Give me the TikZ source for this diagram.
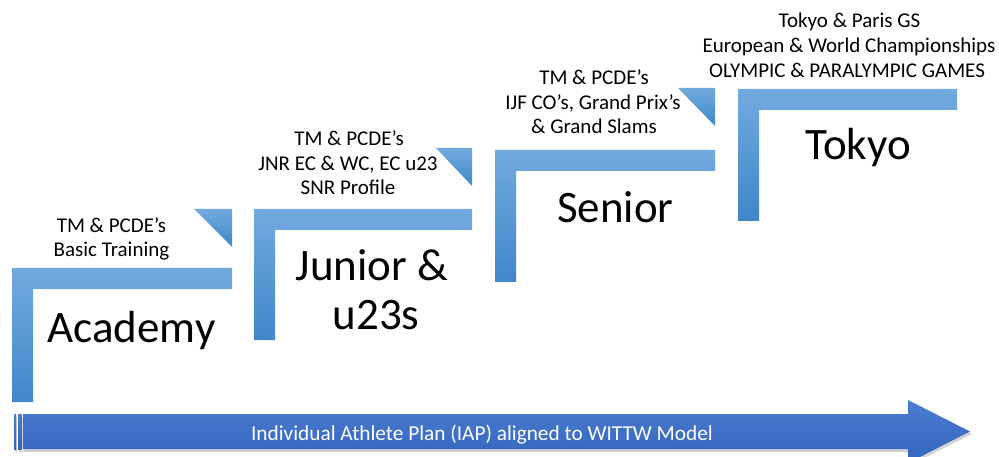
\documentclass[tikz,border=0pt]{standalone}
\usepackage{fontspec}
\setmainfont{Carlito}
\definecolor{stepTop}{HTML}{72AADE}
\definecolor{stepBot}{HTML}{3F87CA}
\definecolor{arrTop}{HTML}{4B7DD0}
\definecolor{arrBot}{HTML}{3464BE}
\newcommand\jstep[4]{% x0, top, right, bottom
  \path[top color=stepTop, bottom color=stepBot]
    (#1,#2) -- (#3,#2) -- (#3,#2+21) -- (#1+21,#2+21) -- (#1+21,#4) -- (#1,#4) -- cycle;}
\newcommand\jtri[3]{% left, top, right
  \path[top color=stepTop, bottom color=stepBot]
    (#1,#2) -- (#3,#2) -- (#3,#2+38) -- cycle;}
\begin{document}
\begin{tikzpicture}[x=1pt,y=-1pt,
  small/.style={font=\fontsize{21}{25}\selectfont, anchor=base, inner sep=0pt},
  big/.style={font=\fontsize{45}{49}\selectfont, anchor=base, inner sep=0pt},
  bartext/.style={font=\fontsize{21.3}{25}\selectfont, anchor=base, inner sep=0pt, text=white}]
\useasboundingbox (0,0) rectangle (999,457);
\clip (0,0) rectangle (999,457);
% steps
\jstep{12}{268}{232}{402}
\jstep{254}{209}{472}{340}
\jstep{495}{150}{715}{282}
\jstep{738}{89}{957}{221}
\jtri{194}{209}{232}
\jtri{436}{148}{472}
\jtri{678}{88}{715}
% arrow shadow
\fill[black!35, opacity=0.5]
  (15,417) rectangle (17,452)
  (19,417) rectangle (23,452)
  (24,417) -- (910,417) -- (910,403) -- (972,434) -- (910,465) -- (910,452) -- (24,452) -- cycle;
% arrow
\path[top color=arrTop, bottom color=arrBot] (14,414) rectangle (16,449);
\path[top color=arrTop, bottom color=arrBot] (18,414) rectangle (21.5,449);
\path[top color=arrTop, bottom color=arrBot]
  (23,414) -- (908,414) -- (908,400) -- (970,431.5) -- (908,463) -- (908,449) -- (23,449) -- cycle;
% big labels
\node[big] (acad) at (131.5,342) {Academy};
\node[big] (jun1) at (372,280) {Junior \&};
\node[big] (jun2) at (376,329) {u23s};
\node[big] (sen) at (615.5,223) {Senior};
\node[big] (tok) at (858,160) {Tokyo};
% small labels
\node[small] (a1) at (111.5,233) {TM \& PCDE’s};
\node[small] (a2) at (111.5,257) {Basic Training};
\node[small] (j1) at (349,146) {TM \& PCDE’s};
\node[small] (j2) at (348,171) {JNR EC \& WC, EC u23};
\node[small] (j3) at (348,195) {SNR Profile};
\node[small] (s1) at (594,85) {TM \& PCDE’s};
\node[small] (s2) at (593,110) {IJF CO’s, Grand Prix’s};
\node[small] (s3) at (594,134) {\& Grand Slams};
\node[small] (t1) at (849.5,28) {Tokyo \& Paris GS};
\node[small] (t2) at (849,53) {European \& World Championships};
\node[small] (t3) at (847,78) {OLYMPIC \& PARALYMPIC GAMES};
% bar text
\node[bartext] (iap) at (482,440) {Individual Athlete Plan (IAP) aligned to WITTW Model};
\end{tikzpicture}
\end{document}
